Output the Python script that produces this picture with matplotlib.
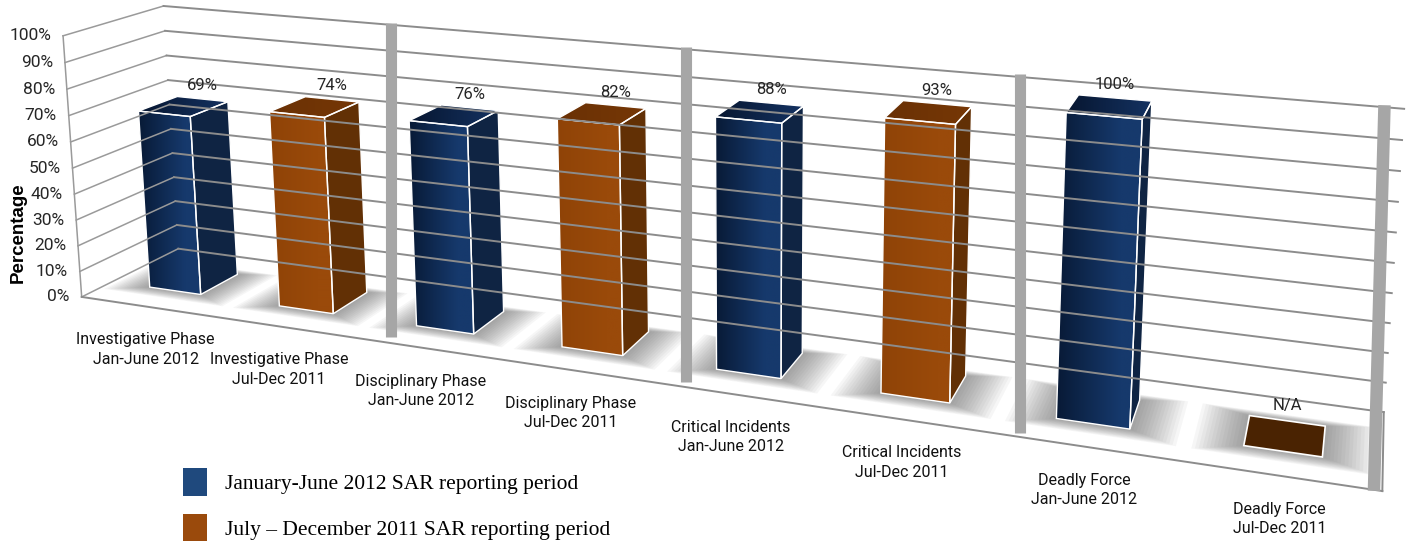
import numpy as np
import matplotlib.pyplot as plt
from matplotlib.colors import to_rgb
from matplotlib.patches import Polygon, Patch

categories = ['Investigative Phase\nJan-June 2012', 'Investigative Phase\nJul-Dec 2011',
              'Disciplinary Phase\nJan-June 2012', 'Disciplinary Phase\nJul-Dec 2011',
              'Critical Incidents\nJan-June 2012', 'Critical Incidents\nJul-Dec 2011',
              'Deadly Force\nJan-June 2012', 'Deadly Force\nJul-Dec 2011']
values = [69, 74, 76, 82, 88, 93, 100, None]
series = [0, 1, 0, 1, 0, 1, 0, 1]
series_names = ['January-June 2012 SAR reporting period',
                'July \u2013 December 2011 SAR reporting period']
y_ticks = [0, 10, 20, 30, 40, 50, 60, 70, 80, 90, 100]

# the 3d view is fitted on the chart frame corners:
# (category x, depth 0 front .. 1 back wall, fraction of 100%) -> pixel
frame_world = [(0, 0, 1), (0, 0, 0), (0, 1, 1), (0, 1, .9), (0, 1, .8),
               (8, 1, 1), (8, 1, .5), (8, 1, 0), (8, 0, 0)]
frame_pix = [(63, 35), (82, 297), (165, 6), (165, 31), (165, 56),
             (1404, 109), (1394, 263), (1384, 411), (1382, 492)]


def fit_camera(world, pix):
    rows = []
    for (X, Y, Z), (u, v) in zip(world, pix):
        u, v = u / 1000, v / 1000
        rows.append([X, Y, Z, 1, 0, 0, 0, 0, -u * X, -u * Y, -u * Z, -u])
        rows.append([0, 0, 0, 0, X, Y, Z, 1, -v * X, -v * Y, -v * Z, -v])
    _, _, vt = np.linalg.svd(np.array(rows, float))
    P = vt[-1].reshape(3, 4)
    P[:2] *= 1000
    return P / P[2, 3]


P = fit_camera(frame_world, frame_pix)


def proj(X, Y, Z):
    p = P @ np.array([X, Y, Z / 100.0, 1.0])
    return p[0] / p[2], p[1] / p[2]


def poly(ax, pts, **kw):
    patch = Polygon([proj(*q) for q in pts], closed=True, **kw)
    ax.add_patch(patch)
    return patch


def line(ax, a, b, **kw):
    pa, pb = proj(*a), proj(*b)
    ax.plot([pa[0], pb[0]], [pa[1], pb[1]], **kw)


def gradient_face(ax, pts, c0, c1, stop=1.0):
    patch = poly(ax, pts, facecolor='none', edgecolor='none')
    xy = patch.get_xy()
    t = np.clip(np.linspace(0, 1, 64) / stop, 0, 1)
    a, b = np.array(to_rgb(c0)), np.array(to_rgb(c1))
    img = (a + (b - a) * t[:, None])[None, :, :].repeat(2, axis=0)
    im = ax.imshow(img, extent=(xy[:, 0].min(), xy[:, 0].max(), xy[:, 1].max(), xy[:, 1].min()),
                   aspect='auto', interpolation='bilinear', zorder=patch.get_zorder())
    im.set_clip_path(patch)


front_cols = [('#081a36', '#16396c'), ('#8f4307', '#9a4a0a')]
side_cols = ['#0f2443', '#623005']
top_cols = [('#071630', '#143261'), ('#6a3105', '#763706')]
flat_col = '#4a2302'
grid_col = '#8c8c8c'
narrow = ['Liberation Sans Narrow', 'Roboto', 'DejaVu Sans']

fig = plt.figure(figsize=(14.12, 5.41), dpi=100)
ax = fig.add_axes([0, 0, 1, 1])
ax.axis('off')

# walls and floor outline
for t in y_ticks:
    line(ax, (0, 0, t), (0, 1, t), color='#9a9a9a', lw=1.1)
    line(ax, (0, 1, t), (8, 1, t), color=grid_col, lw=1.4)
line(ax, (0, 0, 0), (0, 0, 100), color='#9a9a9a', lw=1.1)
line(ax, (0, 0, 0), (8, 0, 0), color=grid_col, lw=1.4)
line(ax, (8, 0, 0), (8, 1, 0), color=grid_col, lw=1.4)

# dividers between the phases
for k in [2, 4, 6]:
    top = proj(k + 0.04, 1, 100)
    bot = proj(k + 0.04, 0, 0)
    xm = (top[0] + bot[0]) / 2
    ax.plot([xm, xm], [top[1] - 5, bot[1] - 1], color='#a6a6a6', lw=8, solid_capstyle='butt')
top = proj(7.9, 1, 100)
bot = proj(7.96, 0, 0)
ax.plot([top[0], bot[0]], [top[1] - 2, bot[1] + 1], color='#a6a6a6', lw=9, solid_capstyle='butt')

w, d0, d1 = 0.4, 0.3, 0.7
for i, v in enumerate(values):
    s = series[i]
    h = 0 if v is None else v
    x0, x1 = i + 0.5 - w / 2, i + 0.5 + w / 2
    # soft shadow on the floor
    for m in np.linspace(0.26, 0.02, 14):
        poly(ax, [(x0 - m, d0 - m * 0.5, 0), (x1 + m, d0 - m * 0.5, 0),
                  (x1 + m, d1 + m * 0.3, 0), (x0 - m, d1 + m * 0.3, 0)],
             facecolor='#5a5a5a', edgecolor='none', alpha=0.05)
    if h == 0:
        poly(ax, [(x0, d0, 0), (x1, d0, 0), (x1, d1, 0), (x0, d1, 0)],
             facecolor=flat_col, edgecolor='white', lw=1.2)
        px, py = proj(i + 0.5, d1, 0)
        ax.text(px, py - 8, 'N/A', ha='center', va='bottom', fontsize=12,
                family=narrow, color='#262626')
        continue
    gradient_face(ax, [(x0, d0, 0), (x1, d0, 0), (x1, d0, h), (x0, d0, h)],
                  front_cols[s][0], front_cols[s][1], stop=0.75)
    gradient_face(ax, [(x0, d0, h), (x1, d0, h), (x1, d1, h), (x0, d1, h)],
                  top_cols[s][0], top_cols[s][1])
    poly(ax, [(x1, d0, 0), (x1, d1, 0), (x1, d1, h), (x1, d0, h)],
         facecolor=side_cols[s], edgecolor='white', lw=1.0)
    poly(ax, [(x0, d0, 0), (x1, d0, 0), (x1, d0, h), (x0, d0, h)],
         facecolor='none', edgecolor='white', lw=1.0)
    poly(ax, [(x0, d0, h), (x1, d0, h), (x1, d1, h), (x0, d1, h)],
         facecolor='none', edgecolor='white', lw=1.0)
    px, py = proj(i + 0.5, d1, h)
    ax.text(px, py - 6, f'{v}%', ha='center', va='bottom', fontsize=12,
            family=narrow, color='#262626')

# value axis labels
for t in y_ticks:
    px, py = proj(0, 0, t)
    ax.text(px - 12, py, f'{t}%', ha='right', va='center', fontsize=12.5,
            family=narrow, color='#262626')
ax.text(18, 233, 'Percentage', rotation=90, ha='center', va='center',
        fontsize=13.5, fontweight='bold', family=['Liberation Sans', 'DejaVu Sans'])

# category labels
for i, c in enumerate(categories):
    px, py = proj(i + 0.5, 0, 0)
    ax.text(px, py + 26, c, ha='center', va='top', fontsize=11.5, linespacing=1.35,
            family=narrow, color='#111111')

handles = [Patch(facecolor='#1f497d', edgecolor='none'), Patch(facecolor='#9a4a0c', edgecolor='none')]
fig.legend(handles, series_names, loc='upper left', bbox_to_anchor=(183 / 1412, 1 - 468 / 541),
           frameon=False, prop={'family': ['Liberation Serif', 'DejaVu Serif'], 'size': 15.5},
           handlelength=1.1, handleheight=1.6, handletextpad=0.85, labelspacing=0.85,
           borderpad=0, borderaxespad=0)

ax.set_xlim(0, 1412)
ax.set_ylim(541, 0)
fig.savefig('out.png', dpi=100)
